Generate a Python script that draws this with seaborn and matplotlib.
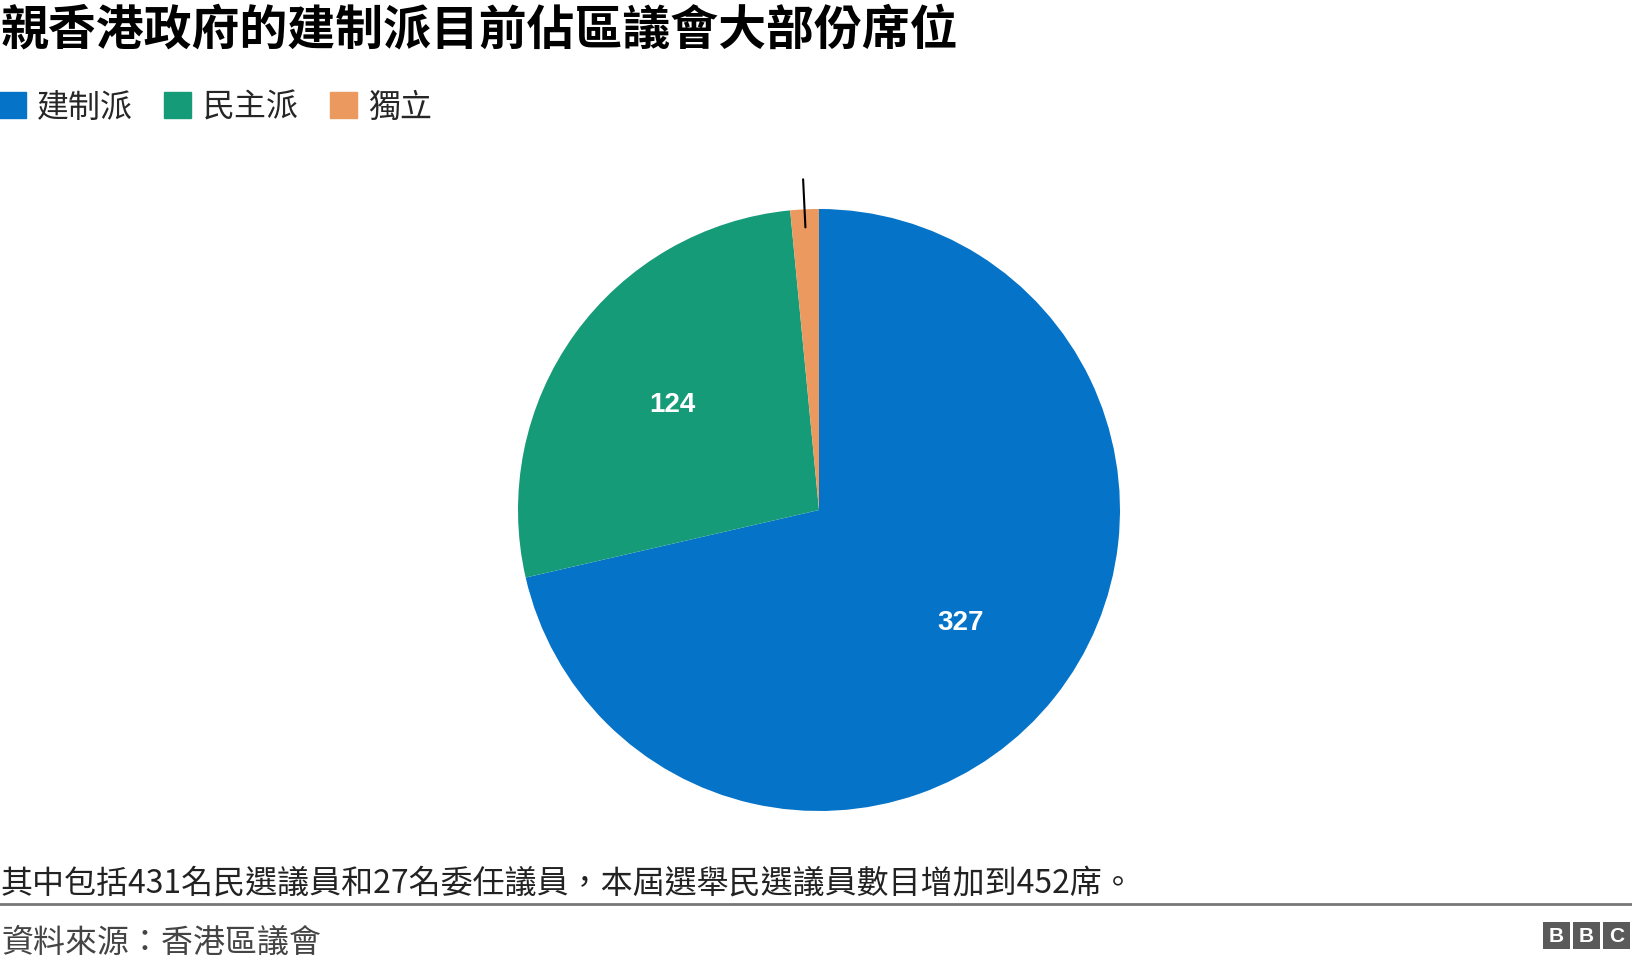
import numpy as np
import matplotlib
matplotlib.use("Agg")
import matplotlib.pyplot as plt
from matplotlib.patches import Rectangle
import seaborn as sns

# Data
parties = ["建制派", "民主派", "獨立"]
seats = [327, 124, 7]
colors = ["#0573C8", "#169B79", "#EC995F"]

title = "親香港政府的建制派目前佔區議會大部份席位"
note = "其中包括431名民選議員和27名委任議員，本屆選舉民選議員數目增加到452席。"
source = "資料來源：香港區議會"

sns.set_theme(style="white")
plt.rcParams["font.family"] = ["Noto Sans CJK TC", "DejaVu Sans"]

W, H = 1632, 962
fig = plt.figure(figsize=(W / 100, H / 100), dpi=100)
fig.patch.set_facecolor("white")

# Pie axes: centre (819, 511) px, radius 301 px
cx, cy, r = 819, 511, 301
ax = fig.add_axes([(cx - r) / W, (H - cy - r) / H, 2 * r / W, 2 * r / H])
wedges, _ = ax.pie(seats, colors=colors, startangle=90, counterclock=False,
                   wedgeprops=dict(linewidth=0))
ax.set_xlim(-1, 1)
ax.set_ylim(-1, 1)
ax.set_aspect("equal")
ax.axis("off")

# value labels for the big slices
for w, v in zip(wedges[:2], seats[:2]):
    ang = np.deg2rad((w.theta1 + w.theta2) / 2)
    ax.text(0.6 * np.cos(ang), 0.6 * np.sin(ang), str(v), color="white",
            fontsize=20, fontweight="bold", family="Liberation Sans",
            ha="center", va="center")

# leader line for the small slice
w = wedges[2]
ang = np.deg2rad((w.theta1 + w.theta2) / 2)
ax.plot([0.94 * np.cos(ang), 1.1 * np.cos(ang)],
        [0.94 * np.sin(ang), 1.1 * np.sin(ang)], color="black", lw=1.5,
        clip_on=False)

# title
fig.text(1 / W, 1 - 30 / H, title, fontsize=34.5, fontweight="bold",
         color="#000000", ha="left", va="center")

# legend
handles = [Rectangle((0, 0), 1, 1, color=c) for c in colors]
fig.legend(handles, parties, loc="center left", bbox_to_anchor=(-0.001, 1 - 108 / H),
           ncol=3, frameon=False, fontsize=23, handlelength=0.85, handleheight=0.85,
           handletextpad=0.36, columnspacing=0.97, borderaxespad=0, borderpad=0)

# note and source
fig.text(1 / W, 1 - 883 / H, note, fontsize=23, color="#222222",
         ha="left", va="center")
fig.add_artist(plt.Line2D([0, 1], [1 - 905 / H, 1 - 905 / H],
                          transform=fig.transFigure, color="#777777", lw=2))
fig.text(1 / W, 1 - 943 / H, source, fontsize=23, color="#444444",
         ha="left", va="center")

# BBC logo
for i, letter in enumerate("BBC"):
    x0 = 1543 + i * 30
    fig.add_artist(Rectangle((x0 / W, 1 - 950 / H), 27 / W, 27 / H,
                             transform=fig.transFigure, color="#5a5a5a", lw=0))
    fig.text((x0 + 13.5) / W, 1 - 936.5 / H, letter, color="white",
             fontsize=15, fontweight="bold", family="Liberation Sans",
             ha="center", va="center")

fig.savefig("out.png", dpi=100)
